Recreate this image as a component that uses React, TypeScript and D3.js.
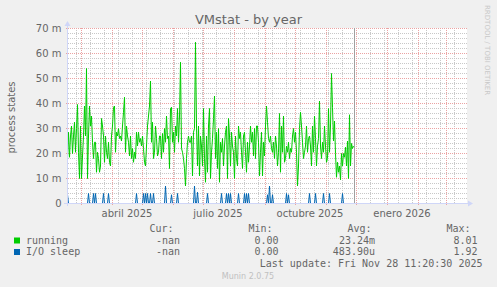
import React from "react";
import * as d3 from "d3";

const DAY = 86400000;
const firstSample = Date.UTC(2025, 1, 15);
const domainStart = Date.UTC(2025, 1, 15);
const domainEnd = Date.UTC(2026, 2, 22);

// running (milli units), one value per day
const running = [
  17.9, 28.5, 18.5, 27, 31, 20, 27, 32.5, 20.5, 30,
  39.6, 20.5, 10, 31, 10, 19, 27, 39, 27, 54,
  10, 27, 39, 31, 35, 24.5, 18, 24.5, 24.5, 12.5,
  20.5, 18, 12.5, 15, 34, 31, 27, 16.5, 27, 20.5,
  18, 24.5, 16.5, 15, 27, 31, 38.5, 39, 20.5, 28.5,
  27, 30, 26, 27, 25, 31, 36.5, 42.5, 20.5, 31,
  27, 24.5, 19, 27, 18, 22, 16.5, 20.5, 18, 28.5,
  23, 28.5, 24.5, 26, 23, 27, 22, 16.5, 15, 23,
  31, 35, 39, 49, 24.5, 32.5, 18, 20.5, 31, 26,
  19, 20.5, 27, 27, 18, 28, 20.5, 30, 24.5, 35,
  26, 27, 14, 38, 38.5, 24.5, 28.5, 20.5, 31, 27,
  38, 24.5, 35, 56.5, 22, 20.5, 18, 14, 7, 18,
  24.5, 27, 24.5, 24.5, 27, 11, 28.5, 30, 64.5, 31,
  15, 31, 11, 27, 23, 15, 38, 18, 8.5, 27,
  12.5, 31, 38, 10, 20.5, 26, 34, 43, 18, 28.5,
  14, 30, 8.5, 24.5, 20.5, 26, 15, 23, 28.5, 31,
  10, 34, 27, 15, 28.5, 23, 20.5, 10, 27, 18,
  15, 31, 26, 28.5, 20.5, 14, 27, 28.5, 20.5, 12.5,
  24.5, 16.5, 23, 31, 24.5, 28.5, 19, 30, 18, 31,
  31, 24.5, 11, 20.5, 28.5, 11, 24.5, 19, 31, 39,
  32.5, 26, 24.5, 27, 22, 20.5, 24.5, 18, 27, 23,
  15, 20.5, 36, 12.5, 31, 20.5, 35, 16.5, 18, 23,
  20.5, 24.5, 18, 22, 20.5, 27, 30, 24.5, 28.5, 20.5,
  7, 15, 30, 36.5, 31, 24.5, 18, 20.5, 23, 31,
  20.5, 26, 27, 23, 15, 31, 20.5, 35, 26, 15,
  23, 26, 41, 23, 18, 24.5, 20.5, 31, 23, 16.5,
  18, 38, 20.5, 31, 52, 38.5, 25, 33, 20, 10.5,
  16.5, 12.5, 15, 9.5, 20, 15, 20, 18.5, 22.5, 15,
  25, 10, 35.5, 15, 24, 22, 23,
];

// I/O sleep (milli units), one value per day
const ioSleep = [
  3.6, 0, 0, 0, 0, 0, 0, 0, 0, 0, 0, 0, 0, 0, 0, 0, 0, 0, 0, 0,
  0, 4, 0, 0, 0, 0, 4, 0, 4, 0, 0, 0, 0, 0, 0, 0, 4, 0, 0, 0,
  0, 4, 0, 0, 0, 0, 0, 0, 0, 0, 0, 0, 0, 0, 0, 0, 0, 0, 0, 0,
  0, 0, 0, 0, 0, 0, 0, 0, 0, 4, 0, 0, 0, 0, 0, 0, 4, 0, 4, 0,
  4, 0, 0, 4, 0, 0, 4, 0, 0, 0, 0, 0, 0, 0, 0, 0, 0, 0, 7, 0,
  0, 0, 0, 0, 3.5, 0, 0, 0, 0, 0, 4, 0, 0, 0, 0, 0, 0, 0, 0, 0,
  0, 0, 0, 0, 0, 0, 0, 7, 0, 0, 4.5, 0, 0, 0, 0, 0, 0, 0, 0, 0,
  4, 0, 0, 0, 0, 0, 0, 0, 0, 0, 0, 0, 0, 0, 4, 0, 0, 0, 0, 4,
  0, 4, 0, 4, 0, 0, 0, 0, 0, 0, 0, 4, 0, 0, 0, 0, 0, 4, 0, 4,
  0, 4, 0, 0, 0, 0, 0, 0, 0, 0, 0, 0, 0, 0, 0, 0, 0, 0, 0, 0,
  3.5, 0, 7, 0, 0, 3.5, 0, 0, 0, 0, 0, 0, 0, 0, 0, 0, 0, 0, 0, 4,
  0, 3.5, 0, 0, 0, 0, 0, 0, 0, 0, 0, 0, 0, 0, 0, 0, 0, 0, 0, 0,
  0, 0, 4, 0, 0, 0, 0, 0, 4, 0, 0, 0, 0, 0, 0, 0, 4, 0, 0, 0,
  0, 0, 4, 0, 0, 0, 0, 0, 0, 0, 0, 0, 0, 0, 0, 4, 0, 0, 0, 0,
  0, 0, 0, 0, 0, 0, 0,
];

const yTicks = [0, 10, 20, 30, 40, 50, 60, 70];
const yTickLabels = ["0", "10 m", "20 m", "30 m", "40 m", "50 m", "60 m", "70 m"];
const xLabelDates = [Date.UTC(2025, 3, 16), Date.UTC(2025, 6, 16), Date.UTC(2025, 9, 16), Date.UTC(2026, 0, 16)];
const xLabels = ["abril 2025", "julio 2025", "octubre 2025", "enero 2026"];

const seriesNames = ["running", "I/O sleep"];
const seriesColors = ["#00cc00", "#0066b3"];
const legendHeaders = ["Cur:", "Min:", "Avg:", "Max:"];
const legendCur = ["-nan", "-nan"];
const legendMin = ["0.00", "0.00"];
const legendAvg = ["23.24m", "483.90u"];
const legendMax = ["8.01", "1.92"];

const PL = 67, PR = 467, PT = 28, PB = 203;
const FONT = "'DejaVu Sans', sans-serif";
const MONO = "'DejaVu Sans Mono', monospace";
const MINOR = "#c8c8c8";
const MAJOR = "#eba3a3";

export default function App() {
  const x = d3.scaleUtc().domain([domainStart, domainEnd]).range([PL, PR]);
  const y = d3.scaleLinear().domain([0, 70]).range([PB, PT]);

  const line = d3
    .line<number>()
    .x((_, i) => x(firstSample + i * DAY) + 0.5)
    .y((v) => y(v) + 0.5);

  const minorY = d3.range(0, 71, 2).filter((v) => v % 10 !== 0);
  const majorX = d3.utcMonth.range(new Date(domainStart), new Date(domainEnd));
  const minorStart = Date.UTC(2025, 1, 24);
  const minorX = d3
    .range(0, 40)
    .map((k) => minorStart + k * 14 * DAY)
    .filter((t) => t < domainEnd);

  const cols = [
    { hx: 149.5, vx: 180, vals: legendCur },
    { hx: 248.5, vx: 278.5, vals: legendMin },
    { hx: 347.5, vx: 375, vals: legendAvg },
    { hx: 446.5, vx: 477.5, vals: legendMax },
  ];
  const rowY = [243.5, 255];
  const r0 = (v: number) => Math.round(v);

  return (
    <svg
      width={497}
      height={287}
      style={{ position: "absolute", left: 0, top: 0 }}
      xmlns="http://www.w3.org/2000/svg"
    >
      <defs>
        <pattern id="hMinor" x={0} y={0} width={2} height={1} patternUnits="userSpaceOnUse">
          <rect x={0} y={0} width={1} height={1} fill={MINOR} />
        </pattern>
        <pattern id="vMinor" x={0} y={0} width={1} height={2} patternUnits="userSpaceOnUse">
          <rect x={0} y={0} width={1} height={1} fill={MINOR} />
        </pattern>
        <pattern id="hMajor" x={0} y={0} width={2} height={1} patternUnits="userSpaceOnUse">
          <rect x={0} y={0} width={1} height={1} fill={MAJOR} />
        </pattern>
        <pattern id="vMajor" x={0} y={0} width={1} height={2} patternUnits="userSpaceOnUse">
          <rect x={0} y={0} width={1} height={1} fill={MAJOR} />
        </pattern>
      </defs>
      <rect x={0} y={0} width={497} height={287} fill="#f0f0f0" />
      <rect x={PL} y={PT} width={PR - PL} height={PB - PT} fill="#ffffff" />

      {/* minor grid */}
      <g shapeRendering="crispEdges">
        {minorY.map((v) => (
          <rect key={"my" + v} x={PL} y={r0(y(v))} width={PR - PL} height={1} fill="url(#hMinor)" />
        ))}
        {minorX.map((t) => (
          <rect key={"mx" + t} x={r0(x(t))} y={PT} width={1} height={PB - PT} fill="url(#vMinor)" />
        ))}
        {yTicks.map((v) => (
          <rect key={"My" + v} x={PL - 2} y={r0(y(v))} width={PR - PL + 2} height={1} fill="url(#hMajor)" />
        ))}
        {majorX.map((d) => (
          <rect key={"Mx" + d.getTime()} x={r0(x(d))} y={PT} width={1} height={PB - PT + 2} fill="url(#vMajor)" />
        ))}
      </g>

      {/* data */}
      <path d={line(running) || ""} fill="none" stroke={seriesColors[0]} strokeWidth={1} />
      <path d={line(ioSleep) || ""} fill="none" stroke={seriesColors[1]} strokeWidth={1} />

      {/* now line */}
      <line x1={354.5} x2={354.5} y1={PT} y2={PB} stroke="#a0a0a0" strokeWidth={1} />

      {/* axes */}
      <g stroke="#cfd6f8" strokeWidth={1} shapeRendering="crispEdges">
        <line x1={PL - 3} x2={PR + 3} y1={PB + 0.5} y2={PB + 0.5} />
        <line x1={PL + 0.5} x2={PL + 0.5} y1={PB + 3} y2={PT - 3} />
      </g>
      <path d={`M${PL + 0.5},${PT - 7} L${PL - 2.5},${PT - 2} L${PL + 3.5},${PT - 2} Z`} fill="#cfd6f8" />
      <path d={`M${PR + 6},${PB + 0.5} L${PR + 1},${PB - 2.5} L${PR + 1},${PB + 3.5} Z`} fill="#cfd6f8" />

      {/* title */}
      <text x={248.5} y={24} textAnchor="middle" fontFamily={FONT} fontSize={13} fill="#666666">
        VMstat - by year
      </text>
      {/* y labels */}
      {yTicks.map((v, i) => (
        <text key={"yl" + v} x={61.5} y={y(v) + 3.5} textAnchor="end" fontFamily={FONT} fontSize={10} fill="#666666">
          {yTickLabels[i]}
        </text>
      ))}
      <text
        transform="translate(14.5,117.5) rotate(-90)"
        textAnchor="middle"
        fontFamily={FONT}
        fontSize={10}
        fill="#666666"
      >
        process states
      </text>
      {/* x labels */}
      {xLabelDates.map((t, i) => (
        <text key={"xl" + i} x={x(t)} y={216.5} textAnchor="middle" fontFamily={FONT} fontSize={10} fill="#666666">
          {xLabels[i]}
        </text>
      ))}
      {/* watermark */}
      <text transform="translate(485,5) rotate(90)" fontFamily={FONT} fontSize={7} fill="#c8c8c8">
        RRDTOOL / TOBI OETIKER
      </text>

      {/* legend */}
      {legendHeaders.map((h, i) => (
        <text key={"h" + i} x={cols[i].hx} y={232} fontFamily={MONO} fontSize={10} fill="#666666">
          {h}
        </text>
      ))}
      {seriesNames.map((n, r) => (
        <g key={"row" + r}>
          <rect x={14} y={rowY[r] - 6} width={6} height={6} fill={seriesColors[r]} />
          <text x={26} y={rowY[r]} fontFamily={MONO} fontSize={10} fill="#666666">
            {n}
          </text>
          {cols.map((c, ci) => (
            <text key={"v" + ci} x={c.vx} y={rowY[r]} textAnchor="end" fontFamily={MONO} fontSize={10} fill="#666666">
              {c.vals[r]}
            </text>
          ))}
        </g>
      ))}
      <text x={482.5} y={267} textAnchor="end" fontFamily={MONO} fontSize={10} fill="#666666">
        Last update: Fri Nov 28 11:20:30 2025
      </text>
      <text x={248} y={279} textAnchor="middle" fontFamily={FONT} fontSize={8} fill="#c0c0c0">
        Munin 2.0.75
      </text>
    </svg>
  );
}
